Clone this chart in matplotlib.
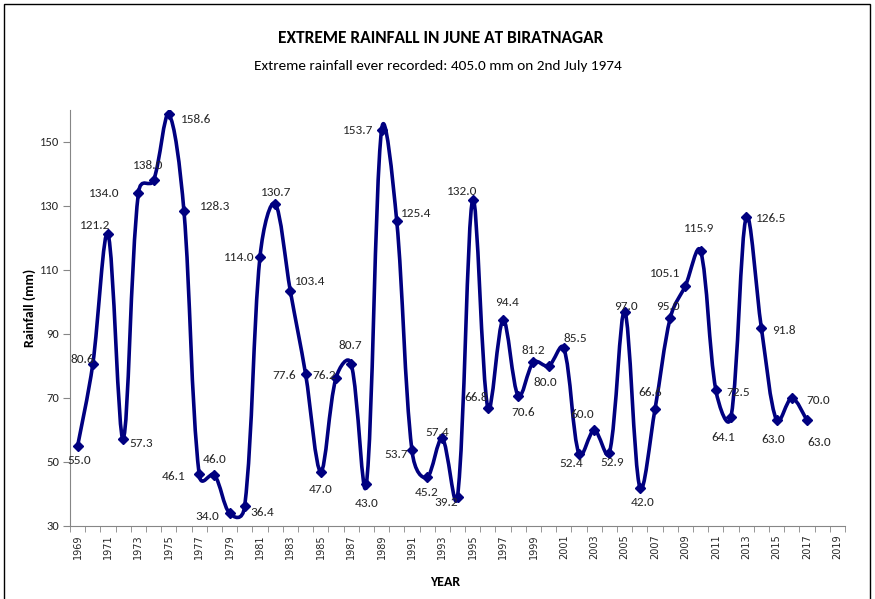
import numpy as np
import matplotlib
matplotlib.use('Agg')
import matplotlib.pyplot as plt
from matplotlib.path import Path
from matplotlib.patches import PathPatch, Rectangle

# data
years = list(range(1969, 2018))
rain = [55.0, 80.6, 121.2, 57.3, 134.0, 138.0, 158.6, 128.3, 46.1, 46.0,
        34.0, 36.4, 114.0, 130.7, 103.4, 77.6, 47.0, 76.2, 80.7, 43.0,
        153.7, 125.4, 53.7, 45.2, 57.4, 39.2, 132.0, 66.8, 94.4, 70.6,
        81.2, 80.0, 85.5, 52.4, 60.0, 52.9, 97.0, 42.0, 66.6, 95.0,
        105.1, 115.9, 72.5, 64.1, 126.5, 91.8, 63.0, 70.0, 63.0]
tick_years = list(range(1969, 2020, 2))
yticks = [30, 50, 70, 90, 110, 130, 150]

# label offsets in pixels (dx, dy up) for each data label
offsets = [(2, -14), (-10, 5), (-13, 9), (18, -5), (-34, 0), (-6, 15), (27, -5), (31, 5),
           (-26, -2), (0, 15), (-22, -3), (18, -7), (-21, 0), (1, 11), (20, 10), (-21, -2),
           (0, -18), (-12, 3), (-1, 18), (0, -19), (-23, 0), (19, 7), (-16, -4), (0, -15),
           (-5, 6), (-11, -6), (-11, 8), (-12, 11), (4, 17), (5, -16), (0, 12), (-3, -16),
           (11, 10), (-8, -9), (-12, 16), (3, -10), (1, 5), (3, -15), (-5, 16), (-2, 12),
           (-20, 12), (-2, 23), (22, -2), (-8, -21), (25, -1), (23, -2), (-3, -19), (26, -2),
           (12, -22)]

navy = '#000080'
txt = '#262626'
fnt = ['Carlito', 'Liberation Sans Narrow', 'DejaVu Sans']

fig = plt.figure(figsize=(8.75, 5.99), dpi=100)
fig.patches.append(Rectangle((4 / 875, -0.01), 866 / 875, 1 - 4 / 599 + 0.01,
                             transform=fig.transFigure, fill=False,
                             edgecolor='black', linewidth=1.0))
ax = fig.add_axes([70 / 875, 1 - 526 / 599, 775 / 875, 416 / 599])
ax.set_xlim(1968.5, 2019.5)
ax.set_ylim(30, 160)

# smoothed line like the spreadsheet one: bezier with control points
# scaled by (sqrt of) segment length, worked out in pixel space
pts = ax.transData.transform(np.column_stack([years, rain]))
n = len(pts)
k = 1 / 3
a = 0.5
verts = [pts[0]]
codes = [Path.MOVETO]
for i in range(n - 1):
    p0 = pts[max(i - 1, 0)]
    p1 = pts[i]
    p2 = pts[i + 1]
    p3 = pts[min(i + 2, n - 1)]
    d01 = np.hypot(*(p1 - p0)) ** a
    d12 = np.hypot(*(p2 - p1)) ** a
    d23 = np.hypot(*(p3 - p2)) ** a
    f1 = d12 / (d01 + d12) if d01 > 0 else 0.5
    f2 = d12 / (d12 + d23) if d23 > 0 else 0.5
    c1 = p1 + (p2 - p0) * f1 * k
    c2 = p2 - (p3 - p1) * f2 * k
    verts += [c1, c2, p2]
    codes += [Path.CURVE4] * 3
verts = ax.transData.inverted().transform(np.array(verts))
ax.add_patch(PathPatch(Path(verts, codes), fill=False, edgecolor=navy,
                       linewidth=2.6, capstyle='round', joinstyle='round', zorder=3))
ax.plot(years, rain, linestyle='none', marker='D', markersize=5,
        color=navy, zorder=4)

for yr, v, (dx, dy) in zip(years, rain, offsets):
    ax.annotate('%.1f' % v, (yr, v), xytext=(dx, dy), textcoords='offset pixels',
                ha='center', va='center', fontsize=9.5, color=txt, family=fnt, zorder=5)

ax.set_yticks(yticks)
ax.set_yticklabels([str(t) for t in yticks], family=fnt, fontsize=9, color=txt)
ax.set_xticks(tick_years)
ax.set_xticklabels([str(t) for t in tick_years], rotation=90, fontsize=7, color=txt)
ax.set_xticks(np.arange(1968.5, 2020, 1), minor=True)
ax.tick_params(axis='x', which='major', length=0, pad=6)
ax.tick_params(axis='x', which='minor', length=4, color='#868686', direction='out')
ax.tick_params(axis='y', length=5, color='#868686', direction='out', pad=3)
for s in ['top', 'right']:
    ax.spines[s].set_visible(False)
for s in ['left', 'bottom']:
    ax.spines[s].set_color('#868686')

fig.text(30 / 875, 1 - 308 / 599, 'Rainfall (mm)', family=fnt, fontsize=10,
         fontweight='bold', rotation=90, ha='center', va='center')
fig.text(445 / 875, 1 - 582 / 599, 'YEAR', family=fnt, fontsize=10, fontweight='bold',
         ha='center', va='center')
fig.text(441 / 875, 1 - 38 / 599, 'EXTREME RAINFALL IN JUNE AT BIRATNAGAR', family=fnt,
         fontsize=12.5, fontweight='bold', ha='center', va='center')
fig.text(438 / 875, 1 - 66 / 599, 'Extreme rainfall ever recorded: 405.0 mm on 2nd July 1974',
         family=fnt, fontsize=11, ha='center', va='center')

fig.savefig('out.png', dpi=100)
